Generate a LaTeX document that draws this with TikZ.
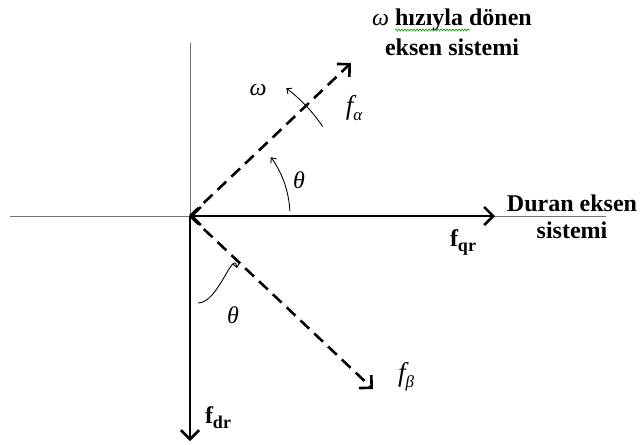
\documentclass[tikz,border=0pt]{standalone}
\usepackage{fontspec}
\setmainfont{Liberation Serif}
\usetikzlibrary{arrows.meta,decorations.pathmorphing}
\begin{document}
\begin{tikzpicture}[x=1pt,y=-1pt,
  thinaxis/.style={draw=black!55, line width=0.8pt},
  vec/.style={line width=2.6pt, -{Straight Barb[length=9pt,width=18pt]}},
  dvec/.style={vec, dash pattern=on 12pt off 7pt},
  anglearc/.style={line width=0.9pt, -{Straight Barb[length=4pt,width=7pt]}},
  lab/.style={inner sep=0pt, font=\fontsize{24}{30}\selectfont},
  flab/.style={inner sep=0pt, font=\fontsize{27}{30}\selectfont}
]
\useasboundingbox (0,0) rectangle (641,445);
\coordinate (O) at (190,216);
\coordinate (Hl) at (10,216);
\coordinate (Hr) at (606,216);
\coordinate (Vt) at (190,43);
\coordinate (Q) at (495,216);
\coordinate (D) at (190,441);
\coordinate (A) at (351,63);
\coordinate (B) at (373,389);
\coordinate (T1) at (198,303);
\coordinate (T2) at (237,268);
% thin axes
\draw[thinaxis] (Hl) -- (Hr);
\draw[thinaxis] (Vt) -- (O);
% thick vectors
\draw[vec, {Straight Barb[length=9pt,width=18pt]}-{Straight Barb[length=9pt,width=18pt]}] (O) -- (Q);
\draw[vec] (O) -- (D);
\draw[dvec] (O) -- (A);
\draw[dvec] (O) -- (B);
% angle arcs
\draw[anglearc] ([shift={(-3:100)}]O) arc[start angle=-3, end angle=-36, radius=100];
\draw[anglearc] ([shift={(-34:160)}]O) arc[start angle=-34, end angle=-53, radius=160];
\draw[anglearc] (T1) to[out=0, in=100] (T2);
% labels
\node[lab] (th1) at (299,180) {\itshape θ};
\node[lab] (th2) at (233,315) {\itshape θ};
\node[lab] (om) at (258,90) {\itshape ω};
\node[flab] (fa) at (354,108) {\itshape f\raisebox{-6pt}{\fontsize{17}{17}\selectfont α}};
\node[flab] (fb) at (406,377) {\itshape f\raisebox{-6pt}{\fontsize{17}{17}\selectfont β}};
\node[lab] (fq) at (463,242) {\bfseries f\raisebox{-5pt}{\fontsize{18}{18}\selectfont qr}};
\node[lab] (fd) at (218,418) {\bfseries f\raisebox{-5pt}{\fontsize{18}{18}\selectfont dr}};
\node[lab, align=center, font=\fontsize{24}{26.5}\selectfont] (duran) at (572,217) {\bfseries Duran eksen\\\bfseries sistemi};
\node[lab, align=center] (donen) at (452,32) {{\itshape ω} \bfseries hızıyla dönen\\\bfseries eksen sistemi};
\coordinate (w1) at (395,30);
\coordinate (w2) at (470,30);
\draw[green!60!black, line width=0.6pt, decorate, decoration={snake, amplitude=1pt, segment length=3pt}] (w1) -- (w2);
\end{tikzpicture}
\end{document}
